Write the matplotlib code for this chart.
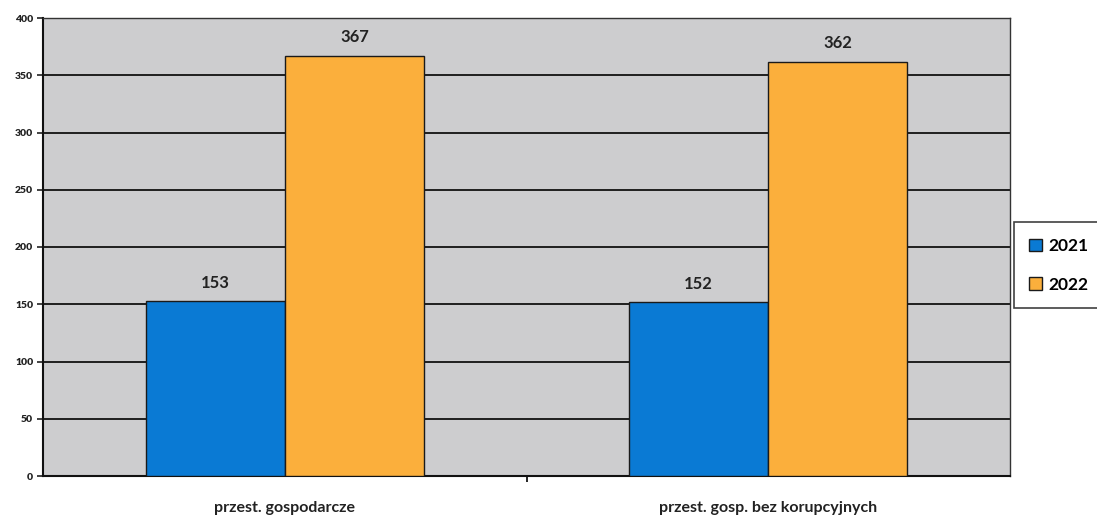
import matplotlib.pyplot as plt
import numpy as np

categories = ["przest. gospodarcze", "przest. gosp. bez korupcyjnych"]
years = ["2021", "2022"]
values_2021 = [153, 152]
values_2022 = [367, 362]

colors = {"2021": "#0a7ad4", "2022": "#fbaf3c"}

plt.rcParams['font.family'] = ['Lato', 'DejaVu Sans']
plt.rcParams['font.weight'] = 'bold'

fig = plt.figure(figsize=(10.97, 5.2), dpi=100)
ax = fig.add_axes([43 / 1097, 44 / 520, 967 / 1097, 458 / 520])
ax.set_facecolor("#cdcdcf")

x = np.arange(len(categories))
width = 0.288
b1 = ax.bar(x - width / 2, values_2021, width, color=colors["2021"],
            edgecolor="#1a1a1a", linewidth=1.0, label=years[0], zorder=3)
b2 = ax.bar(x + width / 2, values_2022, width, color=colors["2022"],
            edgecolor="#1a1a1a", linewidth=1.0, label=years[1], zorder=3)

for bars in (b1, b2):
    for rect in bars:
        h = rect.get_height()
        ax.text(rect.get_x() + rect.get_width() / 2, h + 9, "{}".format(int(h)),
                ha="center", va="bottom", fontsize=12, fontweight="bold", color="#222222")

ax.set_xlim(-0.5, 1.5)
ax.set_ylim(0, 400)
ax.set_yticks(range(0, 401, 50))
ax.tick_params(axis='y', labelsize=7.5, length=4, width=1.2, pad=3, colors="#222222")
for lbl in ax.get_yticklabels():
    lbl.set_fontweight("heavy")
ax.yaxis.grid(True, color="#111111", linewidth=1.3, zorder=1)
ax.set_axisbelow(True)

ax.set_xticks([0.5])
ax.set_xticklabels([""])
ax.tick_params(axis='x', length=4, width=1.2, direction='out')
for i, c in enumerate(categories):
    ax.text(i, -28, c, ha="center", va="center", fontsize=11.5, fontweight="bold",
            color="#222222")

for side in ("left", "bottom"):
    ax.spines[side].set_linewidth(1.5)
    ax.spines[side].set_color("#111111")
for side in ("top", "right"):
    ax.spines[side].set_linewidth(1.0)
    ax.spines[side].set_color("#333333")

leg = ax.legend(loc="center left", bbox_to_anchor=(1.004, 0.46), frameon=True,
                fancybox=False, edgecolor="#111111", fontsize=12.5,
                handlelength=0.7, handleheight=0.7, handletextpad=0.4,
                labelspacing=1.3, borderpad=0.9, borderaxespad=0)
leg.get_frame().set_linewidth(1.2)
for t in leg.get_texts():
    t.set_fontweight("bold")

fig.savefig("out.png", dpi=100)
